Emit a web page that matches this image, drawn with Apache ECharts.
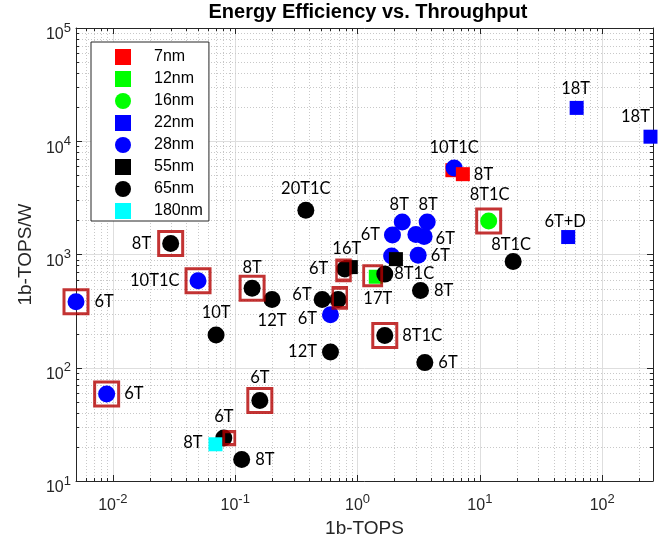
<!DOCTYPE html>
<html><head><meta charset="utf-8">
<script src="https://cdn.jsdelivr.net/npm/echarts@6/dist/echarts.min.js"></script>
<style>html,body{margin:0;padding:0;background:#fff}#c{width:659px;height:543px}</style>
</head><body><div id="c"></div>
<script>
// ---- data ----
const categories = ['7nm','12nm','16nm','22nm','28nm','55nm','65nm','180nm'];

const x7nm = [5.96, 7.26];
const y7nm = [5550, 5120];
const t7nm = ['', '8T'];

const x12nm = [1.41];
const y12nm = [636];
const t12nm = ['17T'];

const x16nm = [11.8];
const y16nm = [1973];
const t16nm = ['8T1C'];

const x22nm = [61.8, 248, 52.7];
const y22nm = [19700, 10970, 1426];
const t22nm = ['18T', '18T', '6T+D'];

const x28nm = [0.005, 0.0089, 0.0497, 0.601, 1.90, 1.93, 2.32, 3.71, 3.0, 3.5, 3.13, 6.16];
const y28nm = [382, 58.6, 586, 294, 972, 1486, 1932, 1932, 1500, 1440, 986, 5800];
const t28nm = ['6T','6T','10T1C','6T','','6T','8T','8T','','6T','6T','10T1C'];

const x55nm = [2.06, 0.881];
const y55nm = [910, 774];
const t55nm = ['', '16T'];

const x65nm = [0.0297, 0.378, 0.1375, 0.2, 0.0698, 0.159, 0.0807, 0.113, 0.514, 0.694, 0.787, 0.601, 1.67, 1.67, 3.27, 3.55, 18.7];
const y65nm = [1250, 2460, 503, 400, 195, 51.4, 24.0, 15.5, 400, 400, 743, 138, 671, 193, 480, 111, 869];
const t65nm = ['8T','20T1C','8T','12T','10T','6T','6T','8T','6T','','6T','12T','8T1C','8T1C','8T','6T','8T1C'];

const x180nm = [0.069];
const y180nm = [21.1];
const t180nm = ['8T'];

// highlighted points (red boxes)
const boxX = [0.0297, 0.005, 0.0497, 0.1375, 0.0089, 0.159, 0.0895, 0.768, 0.716, 1.33, 1.67, 11.8];
const boxY = [1250, 382, 586, 503, 58.6, 51.4, 23.9, 724, 414, 649, 193, 1973];

// axis ranges / ticks
const xMin = 0.005, xMax = 260;
const yMin = 10, yMax = 100000;

// ---- styles / layout (kept separate from data) ----
const L7nm = [null, ['right',4]];
const L12nm = [['bottom',6,2,0]];
const L16nm = [['top',9,1,0]];
const L22nm = [['top',4,-1,0], ['top',5,-15,0], ['top',0,-3,0]];
const L28nm = [['right',10],['right',9],['left',10],['left',5,0,4],null,['left',4],['top',0,-3,0],['top',0,1,0],null,['right',3,0,2],['right',4],['top',3]];
const L55nm = [null, ['top',3,-4,0]];
const L65nm = [['left',11],['top',5],['top',4],['bottom',4],['top',5],['top',6],['top',4],['right',5],['left',2,0,-5],null,['left',8],['left',5],['right',1],['right',9],['right',5],['right',5],['top',0,-2,0]];
const L180nm = [['left',6,0,-2]];
const boxSize = [[24,24],[24,24],[24,24],[24,24],[24,24],[24,24],[11,13],[14,20],[14,20],[18,20],[24,24],[24,24]];

const AX = '#262626';
const LFONT = 'Lato';
const AFONT = 'Liberation Sans';

function pts(xs, ys, ts, ls, filter) {
  const out = [];
  xs.forEach((x, i) => {
    if (filter && !filter(i)) return;
    const l = ls[i];
    const item = { value: [x, ys[i]] };
    if (l && ts[i]) {
      item.label = { show: true, position: l[0], distance: l[1], offset: [l[2] || 0, l[3] || 0], formatter: ts[i] };
    } else {
      item.label = { show: false };
    }
    out.push(item);
  });
  return out;
}

function scat(name, symbol, size, color, data) {
  return {
    name, type: 'scatter', symbol, symbolSize: size, clip: false,
    itemStyle: { color, opacity: 1 },
    label: { color: '#000', fontFamily: LFONT, fontSize: 16.5 },
    emphasis: { disabled: true },
    data
  };
}

// minor grid values (2..9 x 10^k)
const minorX = [], minorY = [];
for (let e = -3; e <= 3; e++) for (let k = 2; k <= 9; k++) {
  const v = k * Math.pow(10, e);
  if (v > xMin * 1.001 && v < xMax * 0.999) minorX.push([v, 100, 0]);
}
for (let e = 1; e <= 4; e++) for (let k = 2; k <= 9; k++) {
  const v = k * Math.pow(10, e);
  if (v > yMin && v < yMax) minorY.push([1, v, 1]);
}

function fmt(v) {
  const e = Math.round(Math.log10(v));
  if (Math.abs(Math.pow(10, e) - v) / v > 1e-6) return '';
  return '{b|10}{s|' + e + '}';
}
const rich = {
  b: { fontSize: 16, fontFamily: AFONT, color: AX, lineHeight: 18, verticalAlign: 'bottom' },
  s: { fontSize: 13, fontFamily: AFONT, color: AX, lineHeight: 30, verticalAlign: 'middle' }
};

const chart = echarts.init(document.getElementById('c'), null, { renderer: 'canvas' });

const series = [
  {
    type: 'custom', silent: true, z: 0, coordinateSystem: 'cartesian2d',
    data: minorX.concat(minorY),
    renderItem: function (params, api) {
      const cs = params.coordSys;
      const t = api.value(2);
      const st = { stroke: '#c8c8c8', lineWidth: 1, lineDash: [1, 2] };
      const tk = { stroke: AX, lineWidth: 1 };
      if (t === 0) {
        const px = Math.round(api.coord([api.value(0), 100])[0]) + 0.5;
        return { type: 'group', children: [
          { type: 'line', shape: { x1: px, y1: cs.y, x2: px, y2: cs.y + cs.height }, style: st },
          { type: 'line', shape: { x1: px, y1: cs.y + cs.height, x2: px, y2: cs.y + cs.height - 3 }, style: tk },
          { type: 'line', shape: { x1: px, y1: cs.y, x2: px, y2: cs.y + 3 }, style: tk }
        ]};
      } else {
        const py = Math.round(api.coord([1, api.value(1)])[1]) + 0.5;
        return { type: 'group', children: [
          { type: 'line', shape: { x1: cs.x, y1: py, x2: cs.x + cs.width, y2: py }, style: st },
          { type: 'line', shape: { x1: cs.x, y1: py, x2: cs.x + 3, y2: py }, style: tk },
          { type: 'line', shape: { x1: cs.x + cs.width, y1: py, x2: cs.x + cs.width - 3, y2: py }, style: tk }
        ]};
      }
    }
  },
  scat('7nm', 'rect', 14, '#ff0000', pts(x7nm, y7nm, t7nm, L7nm, i => i === 0)),
  scat('12nm', 'rect', 14, '#00ff00', pts(x12nm, y12nm, t12nm, L12nm)),
  scat('16nm', 'circle', 17, '#00ff00', pts(x16nm, y16nm, t16nm, L16nm)),
  scat('22nm', 'rect', 14, '#0000ff', pts(x22nm, y22nm, t22nm, L22nm)),
  scat('28nm', 'circle', 17, '#0000ff', pts(x28nm, y28nm, t28nm, L28nm)),
  scat('7nm', 'rect', 14, '#ff0000', pts(x7nm, y7nm, t7nm, L7nm, i => i !== 0)),
  scat('55nm', 'rect', 14, '#000000', pts(x55nm, y55nm, t55nm, L55nm)),
  scat('65nm', 'circle', 17, '#000000', pts(x65nm, y65nm, t65nm, L65nm)),
  scat('180nm', 'rect', 14, '#00ffff', pts(x180nm, y180nm, t180nm, L180nm)),
  {
    name: 'highlight', type: 'scatter', symbol: 'rect', clip: false, silent: true, z: 5,
    itemStyle: { color: 'rgba(0,0,0,0)', borderColor: '#b40000', borderWidth: 3 },
    data: boxX.map((x, i) => ({ value: [x, boxY[i]], symbolSize: boxSize[i] }))
  }
];

const axisLabelBase = { formatter: fmt, rich: rich, fontSize: 16, fontFamily: AFONT, color: AX };

const option = {
  backgroundColor: '#fff',
  animation: false,
  title: {
    text: 'Energy Efficiency vs. Throughput',
    left: 368, top: 2, padding: 0, textAlign: 'center',
    textStyle: { fontFamily: AFONT, fontWeight: 'bold', fontSize: 20, color: '#000' }
  },
  legend: {
    orient: 'vertical', left: 91, top: 42,
    data: categories,
    itemWidth: 16, itemHeight: 16, itemGap: 6,
    padding: [7, 6, 2, 24],
    backgroundColor: '#fff', borderColor: AX, borderWidth: 1,
    selectedMode: false,
    textStyle: { fontFamily: AFONT, fontSize: 16, color: '#000', padding: [0, 0, 0, 18], lineHeight: 16 }
  },
  grid: { left: 76, right: 6, top: 28, bottom: 60, containLabel: false },
  xAxis: [
    {
      type: 'log', logBase: 10, min: xMin, max: xMax,
      name: '1b-TOPS', nameLocation: 'middle', nameGap: 38,
      nameTextStyle: { fontFamily: AFONT, fontSize: 19, color: AX },
      axisLine: { show: true, onZero: false, lineStyle: { color: AX, width: 1 } },
      axisTick: { show: true, inside: true, length: 6, lineStyle: { color: AX } },
      axisLabel: Object.assign({ margin: 3 }, axisLabelBase),
      splitLine: { show: true, lineStyle: { color: '#dedede', width: 1 } }
    },
    {
      type: 'log', logBase: 10, min: xMin, max: xMax, position: 'top',
      axisLine: { show: true, onZero: false, lineStyle: { color: AX, width: 1 } },
      axisTick: { show: true, inside: true, length: 6, lineStyle: { color: AX } },
      axisLabel: { show: false }, splitLine: { show: false }
    }
  ],
  yAxis: [
    {
      type: 'log', logBase: 10, min: yMin, max: yMax,
      name: '1b-TOPS/W', nameLocation: 'middle', nameGap: 40,
      nameTextStyle: { fontFamily: AFONT, fontSize: 19, color: AX },
      axisLine: { show: true, onZero: false, lineStyle: { color: AX, width: 1 } },
      axisTick: { show: true, inside: true, length: 6, lineStyle: { color: AX } },
      axisLabel: Object.assign({ margin: 5 }, axisLabelBase),
      splitLine: { show: true, lineStyle: { color: '#dedede', width: 1 } }
    },
    {
      type: 'log', logBase: 10, min: yMin, max: yMax, position: 'right',
      axisLine: { show: true, onZero: false, lineStyle: { color: AX, width: 1 } },
      axisTick: { show: true, inside: true, length: 6, lineStyle: { color: AX } },
      axisLabel: { show: false }, splitLine: { show: false }
    }
  ],
  series: series
};
chart.setOption(option);
</script></body></html>
